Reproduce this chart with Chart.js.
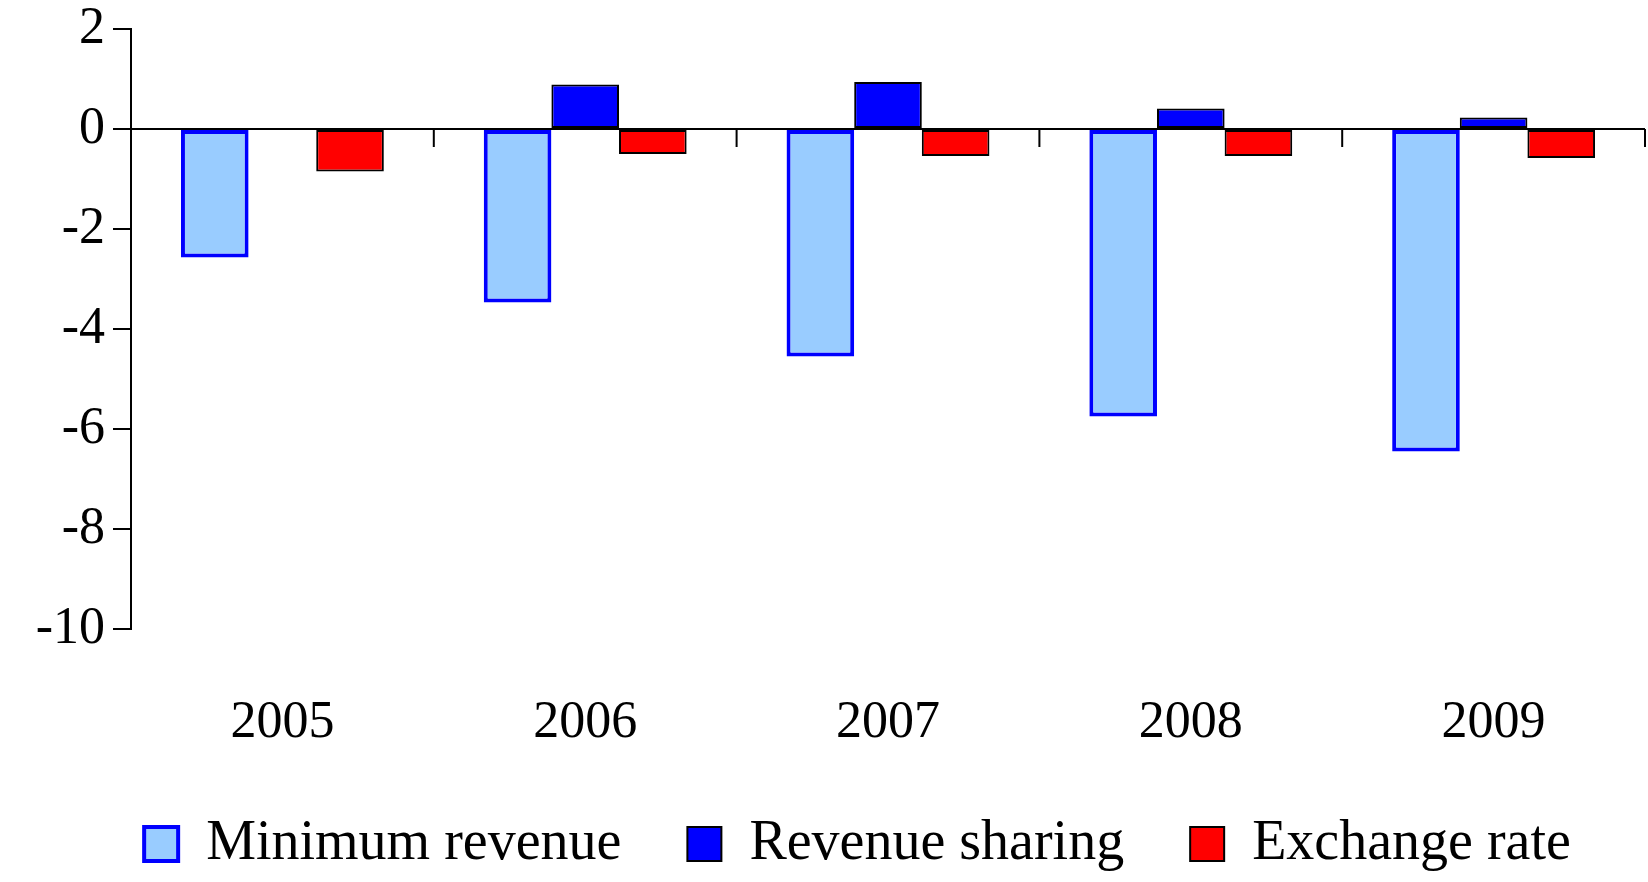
<!DOCTYPE html>
<html>
<head>
<meta charset="utf-8">
<script src="https://cdn.jsdelivr.net/npm/chart.js@4.4.0/dist/chart.umd.min.js"></script>
<style>
	body { margin: 0; background: #fff; }
	#wrap { width: 1648px; height: 882px; }
</style>
</head>
<body>
<div id="wrap"><canvas id="bar-chart"></canvas></div>
<script>
const years = ["2005", "2006", "2007", "2008", "2009"];
const minimumRevenue = [-2.57, -3.47, -4.55, -5.75, -6.45];
const revenueSharing = [null, 0.89, 0.94, 0.41, 0.23];
const exchangeRate = [-0.85, -0.5, -0.54, -0.54, -0.58];

const serif = "'Liberation Serif', 'Times New Roman', serif";

// small tick marks hanging from the zero line at category boundaries
const zeroTicks = {
	id: "zeroTicks",
	afterLayout(chart) {
		// nudge the legend a bit to the right, like the original
		chart.legend.left += 35;
		chart.legend.right += 35;
	},
	afterDatasetsDraw(chart) {
		const x = chart.scales.x;
		const y0 = chart.scales.y.getPixelForValue(0);
		const n = years.length;
		const ctx = chart.ctx;
		ctx.save();
		ctx.strokeStyle = "#000";
		ctx.lineWidth = 2;
		ctx.beginPath();
		for (let i = 1; i <= n; i++) {
			const px = x.left + (i * x.width) / n;
			ctx.moveTo(px, y0);
			ctx.lineTo(px, y0 + 18);
		}
		ctx.stroke();
		ctx.restore();
	},
};

new Chart(document.getElementById("bar-chart"), {
	type: "bar",
	data: {
		labels: years,
		datasets: [
			{
				label: "Minimum revenue",
				backgroundColor: "#99ccff",
				borderColor: "#0000ff",
				borderWidth: 4,
				borderSkipped: false,
				data: minimumRevenue,
			},
			{
				label: "Revenue sharing",
				backgroundColor: "#0000ff",
				borderColor: "#000",
				borderWidth: 2,
				borderSkipped: false,
				data: revenueSharing,
			},
			{
				label: "Exchange rate",
				backgroundColor: "#ff0000",
				borderColor: "#000",
				borderWidth: 2,
				borderSkipped: false,
				data: exchangeRate,
			},
		],
	},
	options: {
		responsive: true,
		maintainAspectRatio: false,
		animation: false,
		categoryPercentage: 0.67,
		barPercentage: 1,
		layout: { padding: { left: 0, right: 3, top: 0, bottom: 0 } },
		plugins: {
			title: { display: false },
			tooltip: { enabled: false },
			legend: {
				display: true,
				position: "bottom",
				labels: {
					boxWidth: 34,
					boxHeight: 34,
					padding: 66,
					color: "#000",
					font: { family: serif, size: 56 },
				},
			},
		},
		scales: {
			x: {
				afterFit(scale) {
					scale.height = 121;
				},
				grid: { display: false, drawTicks: false },
				border: { display: false },
				ticks: {
					color: "#000",
					padding: 63,
					font: { family: serif, size: 52 },
					maxRotation: 0,
				},
			},
			y: {
				min: -10,
				max: 2,
				afterFit(scale) {
					scale.width = 131;
					scale.paddingTop = 29;
					scale.paddingBottom = 0;
				},
				border: { display: true, color: "#000", width: 2 },
				grid: {
					color: (c) => (c.tick && c.tick.value === 0 ? "#000" : "rgba(0,0,0,0)"),
					tickColor: "#000",
					lineWidth: 2,
					tickLength: 18,
				},
				ticks: {
					stepSize: 2,
					color: "#000",
					padding: 8,
					font: { family: serif, size: 52 },
				},
			},
		},
	},
	plugins: [zeroTicks],
});
</script>
</body>
</html>
